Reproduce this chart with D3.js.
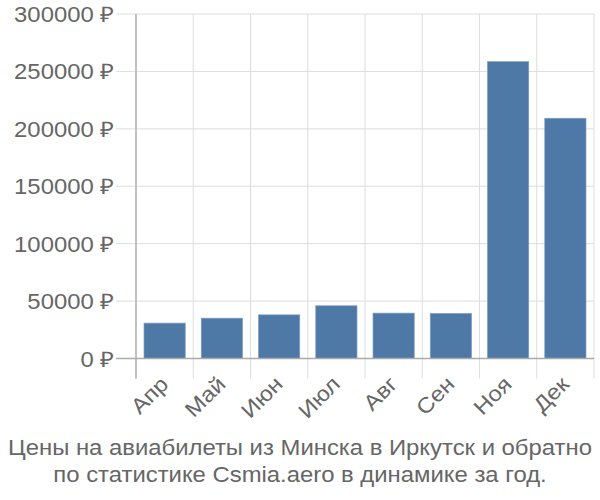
<!DOCTYPE html>
<html>
<head>
<meta charset="utf-8">
<script src="https://cdn.jsdelivr.net/npm/d3@7"></script>
<style>
	body { margin: 0; background: #fff; }
	text { font-family: "Liberation Sans", Arial, sans-serif; fill: #666; }
</style>
</head>
<body>
<div id="container"></div>
<script>
//Chart data
var months = ['Апр', 'Май', 'Июн', 'Июл', 'Авг', 'Сен', 'Ноя', 'Дек'];
var prices = [30800, 35100, 38000, 45900, 39500, 39200, 258500, 209200];
var yTicks = [0, 50000, 100000, 150000, 200000, 250000, 300000];
var titleLines = ['Цены на авиабилеты из Минска в Иркутск и обратно', 'по статистике Csmia.aero в динамике за год.'];

var w = 600, h = 500;
var plotLeft = 136, plotRight = 594, plotTop = 14, plotBottom = 358.5;
var fontSize = '21.5px';
var stretch = 'scale(1.11,1)'; //text in the reference is a bit wider than Liberation Sans

var svg = d3.select('#container')
	.append('svg')
	.attr('width', w)
	.attr('height', h);

var x = d3.scaleBand()
	.domain(months)
	.range([plotLeft, plotRight])
	.paddingInner(0.28)
	.paddingOuter(0.14);

var yScale = d3.scaleLinear()
	.domain([0, 300000])
	.range([plotBottom, plotTop]);

//Horizontal grid lines with ticks to the left
svg.selectAll('line.hgrid')
	.data(yTicks)
	.enter()
	.append('line')
	.attr('class', 'hgrid')
	.attr('x1', plotLeft - 20)
	.attr('x2', plotRight)
	.attr('y1', function(d) { return yScale(d); })
	.attr('y2', function(d) { return yScale(d); })
	.attr('stroke', '#ddd')
	.attr('stroke-width', 1);

//Vertical grid lines on band edges
var edges = months.map(function(m) { return x(m) - x.step() * x.paddingInner() / 2; });
edges.push(plotRight);
svg.selectAll('line.vgrid')
	.data(edges)
	.enter()
	.append('line')
	.attr('class', 'vgrid')
	.attr('x1', function(d) { return d; })
	.attr('x2', function(d) { return d; })
	.attr('y1', plotTop)
	.attr('y2', plotBottom + 20)
	.attr('stroke', '#ddd')
	.attr('stroke-width', 1);

//Y labels
svg.selectAll('text.ylab')
	.data(yTicks)
	.enter()
	.append('text')
	.attr('class', 'ylab')
	.text(function(d) { return d + ' ₽'; })
	.attr('text-anchor', 'end')
	.attr('transform', function(d) {
		return 'translate(' + (plotLeft - 22) + ',' + (yScale(d) + 8) + ') ' + stretch;
	})
	.attr('font-size', fontSize);

//Bars
svg.selectAll('rect')
	.data(prices)
	.enter()
	.append('rect')
	.attr('x', function(d, i) { return x(months[i]); })
	.attr('y', function(d) { return yScale(d); })
	.attr('width', x.bandwidth())
	.attr('height', function(d) { return plotBottom - yScale(d); })
	.attr('fill', '#4e79a7')
	.attr('stroke', '#7d9cc2')
	.attr('stroke-width', 0.7);

//Axis lines
svg.append('line')
	.attr('x1', plotLeft).attr('x2', plotLeft)
	.attr('y1', plotTop).attr('y2', plotBottom + 20)
	.attr('stroke', '#aaa').attr('stroke-width', 1.3);
svg.append('line')
	.attr('x1', plotLeft - 20).attr('x2', plotRight)
	.attr('y1', plotBottom).attr('y2', plotBottom)
	.attr('stroke', '#aaa').attr('stroke-width', 1.3);

//X labels, rotated
svg.selectAll('text.xlab')
	.data(months)
	.enter()
	.append('text')
	.attr('class', 'xlab')
	.text(function(d) { return d; })
	.attr('text-anchor', 'end')
	.attr('font-size', fontSize)
	.attr('transform', function(d) {
		var cx = x(d) + x.bandwidth() / 2 + 5;
		return 'translate(' + cx + ',' + (plotBottom + 27) + ') rotate(-45) ' + stretch;
	});

//Title
svg.selectAll('text.title')
	.data(titleLines)
	.enter()
	.append('text')
	.attr('class', 'title')
	.text(function(d) { return d; })
	.attr('text-anchor', 'middle')
	.attr('transform', function(d, i) {
		return 'translate(300,' + (455 + i * 27) + ') ' + stretch;
	})
	.attr('font-size', fontSize);
</script>
</body>
</html>
